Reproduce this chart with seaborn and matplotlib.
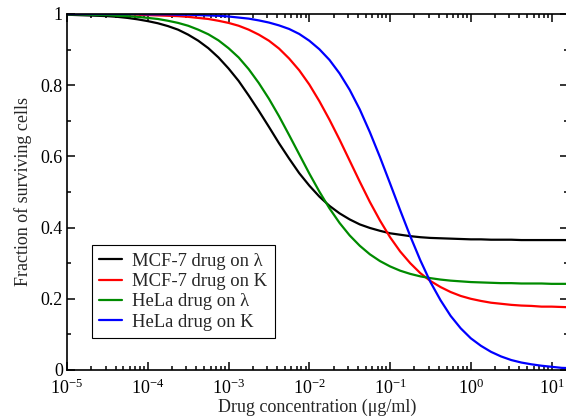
import numpy as np
import pandas as pd
import matplotlib
matplotlib.use("Agg")
import matplotlib.pyplot as plt
import seaborn as sns
from matplotlib.ticker import LogLocator, MultipleLocator, NullFormatter, FixedLocator

# --- data (log10 of drug concentration, fraction surviving) ---
log_conc = [-5.0, -4.875, -4.75, -4.625, -4.5, -4.375, -4.25, -4.125,
            -4.0, -3.875, -3.75, -3.625, -3.5, -3.375, -3.25, -3.125,
            -3.0, -2.875, -2.75, -2.625, -2.5, -2.375, -2.25, -2.125,
            -2.0, -1.875, -1.75, -1.625, -1.5, -1.375, -1.25, -1.125,
            -1.0, -0.875, -0.75, -0.625, -0.5, -0.375, -0.25, -0.125,
            0.0, 0.125, 0.25, 0.375, 0.5, 0.625, 0.75, 0.875,
            1.0, 1.125, 1.25]

mcf7_lambda = [0.998, 0.997, 0.996, 0.995, 0.994, 0.992, 0.989, 0.985,
               0.980, 0.974, 0.966, 0.956, 0.942, 0.925, 0.904, 0.878,
               0.847, 0.812, 0.771, 0.728, 0.683, 0.637, 0.594, 0.553,
               0.518, 0.487, 0.461, 0.440, 0.423, 0.409, 0.399, 0.391,
               0.384, 0.380, 0.376, 0.373, 0.371, 0.370, 0.369, 0.368,
               0.367, 0.367, 0.366, 0.366, 0.366, 0.365, 0.365, 0.365,
               0.365, 0.365, 0.365]
mcf7_k = [1.000, 1.000, 1.000, 0.999, 0.999, 0.999, 0.999, 0.998,
          0.997, 0.996, 0.995, 0.994, 0.992, 0.989, 0.986, 0.981,
          0.975, 0.967, 0.956, 0.942, 0.925, 0.903, 0.875, 0.842,
          0.802, 0.755, 0.703, 0.647, 0.588, 0.529, 0.472, 0.420,
          0.373, 0.333, 0.300, 0.272, 0.250, 0.233, 0.219, 0.208,
          0.200, 0.194, 0.189, 0.186, 0.183, 0.181, 0.180, 0.178,
          0.178, 0.177, 0.176]
hela_lambda = [0.999, 0.999, 0.998, 0.997, 0.997, 0.995, 0.994, 0.992,
               0.989, 0.986, 0.981, 0.975, 0.967, 0.956, 0.943, 0.926,
               0.904, 0.878, 0.845, 0.806, 0.762, 0.713, 0.660, 0.606,
               0.552, 0.501, 0.454, 0.413, 0.378, 0.349, 0.325, 0.306,
               0.291, 0.279, 0.270, 0.263, 0.258, 0.254, 0.251, 0.249,
               0.247, 0.246, 0.245, 0.244, 0.244, 0.243, 0.243, 0.243,
               0.242, 0.242, 0.242]
hela_k = [1.000, 1.000, 1.000, 1.000, 1.000, 1.000, 1.000, 1.000,
          0.999, 0.999, 0.999, 0.998, 0.998, 0.997, 0.996, 0.995,
          0.993, 0.990, 0.987, 0.982, 0.976, 0.968, 0.958, 0.944,
          0.925, 0.901, 0.871, 0.833, 0.787, 0.732, 0.668, 0.598,
          0.524, 0.449, 0.376, 0.308, 0.247, 0.196, 0.152, 0.117,
          0.089, 0.068, 0.051, 0.038, 0.028, 0.021, 0.016, 0.012,
          0.009, 0.006, 0.005]

series_names = ["MCF-7 drug on \u03bb", "MCF-7 drug on K", "HeLa drug on \u03bb", "HeLa drug on K"]
series_colors = ["#000000", "#ff0000", "#008b00", "#0000ff"]

y_ticks = [0, 0.2, 0.4, 0.6, 0.8, 1.0]
y_tick_labels = ["0", "0.2", "0.4", "0.6", "0.8", "1"]


def build_frame():
    conc = 10 ** np.array(log_conc)
    frames = []
    for name, vals in zip(series_names, [mcf7_lambda, mcf7_k, hela_lambda, hela_k]):
        frames.append(pd.DataFrame({"conc": conc, "frac": vals, "series": name}))
    return pd.concat(frames, ignore_index=True)


def main():
    sns.set_theme(style="ticks")
    plt.rcParams['font.family'] = ['Liberation Serif', 'DejaVu Serif']
    plt.rcParams['mathtext.fontset'] = 'custom'
    plt.rcParams['mathtext.rm'] = 'Liberation Serif'
    plt.rcParams['mathtext.it'] = 'Liberation Serif:italic'
    plt.rcParams['mathtext.bf'] = 'Liberation Serif:bold'

    df = build_frame()

    fig = plt.figure(figsize=(5.66, 4.2), dpi=100)
    ax = fig.add_axes([67 / 566, 1 - 370 / 420, 500.5 / 566, 356 / 420])

    sns.lineplot(data=df, x="conc", y="frac", hue="series", hue_order=series_names,
                 palette=series_colors, linewidth=1.6, ax=ax, legend=True)

    ax.set_xscale("log")
    ax.set_xlim(1e-5, 10 ** 1.197)
    ax.set_ylim(0, 1)

    ax.xaxis.set_major_locator(LogLocator(base=10, numticks=20))
    ax.xaxis.set_minor_locator(LogLocator(base=10, subs=np.arange(2, 10), numticks=20))
    ax.xaxis.set_minor_formatter(NullFormatter())
    ax.yaxis.set_major_locator(FixedLocator(y_ticks))
    ax.set_yticklabels(y_tick_labels)
    ax.yaxis.set_minor_locator(MultipleLocator(0.1))

    ax.tick_params(which="both", direction="in", top=True, right=True, colors="black",
                   labelsize=13, width=1.1)
    ax.tick_params(which="major", length=6, pad=3)
    ax.tick_params(axis="x", which="major", pad=6)
    ax.tick_params(which="minor", length=3)
    for s in ax.spines.values():
        s.set_linewidth(1.2)
        s.set_color("black")

    ax.set_xlabel("Drug concentration (\u03bcg/ml)", fontsize=13, labelpad=1)
    ax.set_ylabel("Fraction of surviving cells", fontsize=13, labelpad=6)

    leg = ax.legend(loc="lower left", bbox_to_anchor=(0.05, 0.09), fontsize=13.4,
                    frameon=True, fancybox=False, edgecolor="black", framealpha=1,
                    handlelength=1.2, handletextpad=0.55, borderpad=0.4, labelspacing=0.17,
                    borderaxespad=0)
    leg.get_frame().set_linewidth(0.8)
    for line in leg.get_lines():
        line.set_linewidth(1.6)

    fig.savefig("out.png", dpi=100)
    plt.close(fig)


if __name__ == "__main__":
    main()
